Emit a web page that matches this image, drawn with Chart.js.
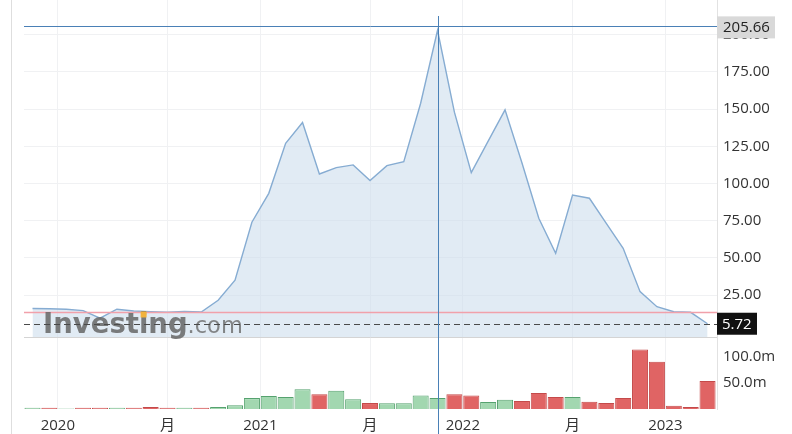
<!DOCTYPE html>
<html>
<head>
<meta charset="utf-8">
<script src="https://cdn.jsdelivr.net/npm/chart.js@4"></script>
<style>
html,body{margin:0;padding:0;background:#fff;}
#wrap{width:792px;height:434px;position:relative;}
</style>
</head>
<body>
<div id="wrap"><canvas id="c" width="792" height="434"></canvas></div>
<script>
// ---- data ----
const months = [
  '2019-11','2019-12',
  '2020-01','2020-02','2020-03','2020-04','2020-05','2020-06','2020-07','2020-08','2020-09','2020-10','2020-11','2020-12',
  '2021-01','2021-02','2021-03','2021-04','2021-05','2021-06','2021-07','2021-08','2021-09','2021-10','2021-11','2021-12',
  '2022-01','2022-02','2022-03','2022-04','2022-05','2022-06','2022-07','2022-08','2022-09','2022-10','2022-11','2022-12',
  '2023-01','2023-02','2023-03'
];
const prices = [
  16.0, 15.8,
  15.5, 14.5, 9.5, 15.5, 14.3, 13.8, 13.5, 14.0, 13.6, 21.5, 35.0, 74.0,
  93.4, 127.0, 141.0, 106.4, 110.7, 112.5, 102.0, 112.0, 114.7, 154.0, 203.0, 148.0,
  107.3, 128.5, 149.5, 114.0, 76.6, 53.1, 92.3, 90.1, 73.2, 56.4, 27.3, 17.2,
  13.8, 13.4, 5.72
];
const volumes = [ // millions
  2.2, 2.2,
  1.0, 2.2, 2.2, 2.2, 2.2, 4.0, 2.2, 2.2, 2.2, 4, 7, 21,
  25, 23, 38, 28.5, 35, 19, 11.5, 11, 11, 26, 21, 28.5,
  26, 13.5, 18, 15.5, 31, 23, 23, 14, 11.5, 21, 115, 91,
  6.5, 4, 54
];
const volumeUp = [ // 1 = up (green), 0 = down (red)
  1, 0,
  1, 0, 0, 1, 0, 0, 0, 1, 0, 1, 1, 1,
  1, 1, 1, 0, 1, 1, 0, 1, 1, 1, 1, 0,
  0, 1, 1, 0, 0, 0, 1, 0, 0, 0, 0, 0,
  0, 0, 0
];
const xTickAt = [1.5, 8, 13.5, 20, 25.5, 32, 37.5];
const xTickLabels = ['2020', '月', '2021', '月', '2022', '月', '2023'];
const priceTicks = [25, 50, 75, 100, 125, 150, 175, 200];
const volumeTicks = [50, 100];
const lastPrice = 5.72;
const refLevel = 13.2;
const crosshairIndex = 24;
const crosshairValue = 205.66;

// ---- chart ----
const FONT = "'Open Sans', 'Noto Sans CJK SC', sans-serif";
Chart.defaults.font.family = FONT;
Chart.defaults.font.size = 15;
Chart.defaults.color = '#333';

const noPad = s => { s.paddingTop = 0; s.paddingBottom = 0; s.paddingLeft = 0; s.paddingRight = 0; };

const overlay = {
  id: 'overlay',
  afterDatasetsDraw(chart) {
    const {ctx, chartArea: a, scales} = chart;
    const yP = scales.price, x = scales.x;
    ctx.save();
    const hline = (y, x0, x1) => { ctx.beginPath(); ctx.moveTo(x0, y); ctx.lineTo(x1, y); ctx.stroke(); };
    // pane separator
    ctx.strokeStyle = '#d4d4d4'; ctx.lineWidth = 1;
    hline(Math.round(yP.bottom) + 0.5, a.left, a.right);
    // reference (red) level
    ctx.strokeStyle = '#f1a1aa'; ctx.lineWidth = 1.5;
    hline(yP.getPixelForValue(refLevel), a.left, a.right);
    // watermark
    ctx.globalAlpha = 0.85;
    ctx.fillStyle = '#666';
    ctx.textBaseline = 'alphabetic'; ctx.textAlign = 'left';
    const bx = 43, by = 333;
    ctx.font = "bold 27.5px 'DejaVu Sans', sans-serif";
    ctx.fillText('Investing', bx, by);
    const wInv = ctx.measureText('Investing').width;
    const wPre = ctx.measureText('Invest').width;
    const wI = ctx.measureText('i').width;
    ctx.globalAlpha = 1;
    ctx.fillStyle = '#f2b33d';
    const dx = bx + wPre + wI / 2;
    ctx.fillRect(dx - 3, by - 21.5, 6, 6);
    ctx.globalAlpha = 0.8;
    ctx.fillStyle = '#6a6a6a';
    ctx.font = "22.5px 'DejaVu Sans', sans-serif";
    ctx.fillText('.com', bx + wInv, by);
    ctx.globalAlpha = 1;
    // last price dashed
    ctx.setLineDash([6, 4]); ctx.strokeStyle = '#4a4a4a'; ctx.lineWidth = 1.2;
    hline(Math.round(yP.getPixelForValue(lastPrice)) + 0.5, a.left, a.right);
    ctx.setLineDash([]);
    // crosshair
    ctx.strokeStyle = '#4a80b6'; ctx.lineWidth = 1;
    const cx = Math.round(x.getPixelForValue(crosshairIndex)) + 0.5;
    const cy = Math.round(yP.getPixelForValue(crosshairValue)) + 0.5;
    ctx.beginPath(); ctx.moveTo(cx, 16); ctx.lineTo(cx, chart.height); ctx.stroke();
    hline(cy, a.left, a.right);
    ctx.restore();
  },
  afterDraw(chart) {
    const {ctx, chartArea: a, scales} = chart;
    const yP = scales.price;
    ctx.save();
    // left frame
    ctx.strokeStyle = '#dedede'; ctx.lineWidth = 1;
    ctx.beginPath(); ctx.moveTo(11.5, 0); ctx.lineTo(11.5, chart.height); ctx.stroke();
    ctx.font = '15px ' + FONT;
    ctx.textBaseline = 'middle'; ctx.textAlign = 'left';
    // crosshair value box
    let yc = yP.getPixelForValue(crosshairValue);
    ctx.fillStyle = '#d9d9d9';
    ctx.fillRect(a.right, yc - 10, 58, 22);
    ctx.fillStyle = '#222';
    ctx.fillText(crosshairValue.toFixed(2), a.right + 6, yc + 1);
    // last price box
    yc = yP.getPixelForValue(lastPrice);
    ctx.fillStyle = '#111';
    ctx.fillRect(a.right, yc - 11, 40, 22);
    ctx.fillStyle = '#fff';
    ctx.fillText(lastPrice.toFixed(2), a.right + 5, yc + 1);
    ctx.restore();
  }
};

new Chart(document.getElementById('c'), {
  data: {
    datasets: [
      {
        type: 'line',
        label: 'Price',
        data: prices.map((v, i) => ({x: i, y: v})),
        yAxisID: 'price',
        borderColor: '#86acd2',
        borderWidth: 1.4,
        backgroundColor: 'rgba(205,222,237,0.6)',
        fill: 'start',
        pointRadius: 0,
        tension: 0,
        order: 1
      },
      {
        type: 'bar',
        label: 'Volume',
        data: volumes.map((v, i) => ({x: i, y: v})),
        yAxisID: 'vol',
        backgroundColor: volumeUp.map(u => u ? '#a2d7b0' : '#e06464'),
        borderColor: volumeUp.map(u => u ? '#56a26f' : '#c44a4a'),
        borderWidth: 1,
        barPercentage: 0.95,
        categoryPercentage: 1,
        order: 2
      }
    ]
  },
  options: {
    responsive: false,
    animation: false,
    devicePixelRatio: 1,
    layout: {padding: {left: 24, right: 0, top: 0, bottom: 0}},
    plugins: {legend: {display: false}, tooltip: {enabled: false}},
    scales: {
      x: {
        type: 'linear',
        offset: false,
        min: -0.504,
        max: 40.56,
        grid: {color: '#f0f1f3', drawTicks: false, offset: false},
        border: {display: false},
        afterBuildTicks: s => { s.ticks = xTickAt.map(v => ({value: v})); },
        afterFit: s => { s.height = 25; noPad(s); },
        ticks: {
          autoSkip: false, maxRotation: 0, padding: 8, color: '#333',
          callback: (v) => { const k = xTickAt.indexOf(v); return k >= 0 ? xTickLabels[k] : ''; }
        }
      },
      price: {
        type: 'linear',
        position: 'right',
        stack: 'panes',
        stackWeight: 337,
        min: -3.2,
        max: 223.4,
        grid: {color: '#f0f1f3', drawTicks: false},
        border: {display: true, color: '#e2e2e2'},
        afterBuildTicks: s => { s.ticks = priceTicks.map(v => ({value: v})); },
        afterFit: s => { s.width = 75; noPad(s); },
        ticks: {padding: 6, color: '#333', callback: v => Number(v).toFixed(2)}
      },
      vol: {
        type: 'linear',
        position: 'right',
        stack: 'panes',
        stackWeight: 72,
        min: 0,
        max: 139,
        grid: {display: false, drawTicks: false},
        border: {display: true, color: '#e2e2e2'},
        afterBuildTicks: s => { s.ticks = volumeTicks.map(v => ({value: v})); },
        afterFit: s => { s.width = 75; noPad(s); },
        ticks: {padding: 6, color: '#333', callback: v => Number(v).toFixed(1) + 'm'}
      }
    }
  },
  plugins: [overlay]
});
</script>
</body>
</html>
